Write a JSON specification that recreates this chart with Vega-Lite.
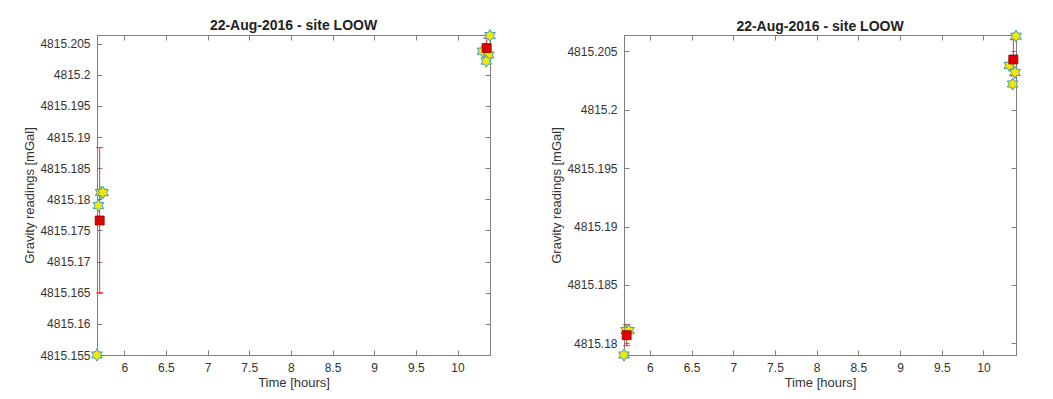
{
  "$schema": "https://vega.github.io/schema/vega-lite/v6.json",
  "padding": {"left": 23, "top": 18, "right": 0, "bottom": 0},
  "background": "white",
  "spacing": 52,
  "data": {
    "values": [
      {"panel": "left", "kind": "reading", "time": 5.673, "g": 4815.155},
      {"panel": "left", "kind": "reading", "time": 5.69, "g": 4815.179},
      {"panel": "left", "kind": "reading", "time": 5.717, "g": 4815.1811},
      {"panel": "left", "kind": "reading", "time": 5.745, "g": 4815.1811},
      {"panel": "left", "kind": "reading", "time": 10.39, "g": 4815.2063},
      {"panel": "left", "kind": "reading", "time": 10.3, "g": 4815.2038},
      {"panel": "left", "kind": "reading", "time": 10.375, "g": 4815.2032},
      {"panel": "left", "kind": "reading", "time": 10.345, "g": 4815.2022},
      {"panel": "left", "kind": "mean", "time": 5.705, "g": 4815.1766, "lo": 4815.165, "hi": 4815.1883},
      {"panel": "left", "kind": "mean", "time": 10.35, "g": 4815.2043, "lo": 4815.2028, "hi": 4815.2059},
      {"panel": "right", "kind": "reading", "time": 5.69, "g": 4815.179},
      {"panel": "right", "kind": "reading", "time": 5.715, "g": 4815.1811},
      {"panel": "right", "kind": "reading", "time": 5.75, "g": 4815.1811},
      {"panel": "right", "kind": "reading", "time": 10.39, "g": 4815.2063},
      {"panel": "right", "kind": "reading", "time": 10.31, "g": 4815.2038},
      {"panel": "right", "kind": "reading", "time": 10.378, "g": 4815.2032},
      {"panel": "right", "kind": "reading", "time": 10.35, "g": 4815.2022},
      {"panel": "right", "kind": "mean", "time": 5.722, "g": 4815.1807, "lo": 4815.1798, "hi": 4815.1816},
      {"panel": "right", "kind": "mean", "time": 10.358, "g": 4815.2043, "lo": 4815.2029, "hi": 4815.206}
    ]
  },
  "hconcat": [
    {
      "width": 393,
      "height": 320,
      "title": "22-Aug-2016 - site LOOW",
      "transform": [{"filter": "datum.panel == 'left'"}],
      "layer": [
        {
          "transform": [{"filter": "datum.kind == 'mean'"}],
          "mark": {"type": "rule", "color": "#e83030", "strokeWidth": 1},
          "encoding": {
            "x": {"field": "time", "type": "quantitative", "scale": {"domain": [5.673, 10.39], "nice": false, "zero": false}, "axis": {"orient": "top", "labels": false, "title": null, "values": [6, 6.5, 7, 7.5, 8, 8.5, 9, 9.5, 10], "domain": false, "labelPadding": 0, "minExtent": 0, "maxExtent": 0}},
            "y": {"field": "lo", "type": "quantitative", "scale": {"domain": [4815.155, 4815.2064], "nice": false, "zero": false}, "axis": {"orient": "right", "labels": false, "title": null, "values": [4815.155, 4815.16, 4815.165, 4815.17, 4815.175, 4815.18, 4815.185, 4815.19, 4815.195, 4815.2, 4815.205], "domain": false, "labelPadding": 0, "minExtent": 0, "maxExtent": 0}},
            "y2": {"field": "hi"}
          }
        },
        {
          "transform": [{"filter": "datum.kind == 'mean'"}],
          "mark": {"type": "point", "shape": "M-1,0L1,0", "size": 49, "filled": false, "stroke": "#e83030", "strokeWidth": 1, "opacity": 1},
          "encoding": {
            "x": {"field": "time", "type": "quantitative", "axis": null},
            "y": {"field": "lo", "type": "quantitative", "axis": null}
          }
        },
        {
          "transform": [{"filter": "datum.kind == 'mean'"}],
          "mark": {"type": "point", "shape": "M-1,0L1,0", "size": 49, "filled": false, "stroke": "#e83030", "strokeWidth": 1, "opacity": 1},
          "encoding": {
            "x": {"field": "time", "type": "quantitative", "axis": null},
            "y": {"field": "hi", "type": "quantitative", "axis": null}
          }
        },
        {
          "transform": [{"filter": "datum.kind == 'reading'"}],
          "mark": {"type": "point", "shape": "M0,-1L-0.289,-0.5L-0.866,-0.5L-0.577,0L-0.866,0.5L-0.289,0.5L0,1L0.289,0.5L0.866,0.5L0.577,0L0.866,-0.5L0.289,-0.5Z", "size": 150, "filled": true, "fill": "#f5e800", "stroke": "#3a9cc0", "strokeWidth": 1, "opacity": 1},
          "encoding": {
            "x": {"field": "time", "type": "quantitative", "axis": {"orient": "bottom", "title": "Time [hours]", "values": [6, 6.5, 7, 7.5, 8, 8.5, 9, 9.5, 10], "format": ".1~f", "titlePadding": 3}},
            "y": {"field": "g", "type": "quantitative", "axis": {"orient": "left", "title": "Gravity readings [mGal]", "values": [4815.155, 4815.16, 4815.165, 4815.17, 4815.175, 4815.18, 4815.185, 4815.19, 4815.195, 4815.2, 4815.205], "format": ".3~f", "titlePadding": 3}}
          }
        },
        {
          "transform": [{"filter": "datum.kind == 'mean'"}],
          "mark": {"type": "square", "size": 81, "filled": true, "fill": "#e00000", "stroke": "#900000", "strokeWidth": 0.8, "opacity": 1},
          "encoding": {
            "x": {"field": "time", "type": "quantitative", "axis": null},
            "y": {"field": "g", "type": "quantitative", "axis": null}
          }
        }
      ],
      "resolve": {"axis": {"x": "independent", "y": "independent"}}
    },
    {
      "width": 392,
      "height": 320,
      "title": "22-Aug-2016 - site LOOW",
      "transform": [{"filter": "datum.panel == 'right'"}],
      "layer": [
        {
          "transform": [{"filter": "datum.kind == 'mean'"}],
          "mark": {"type": "rule", "color": "#e83030", "strokeWidth": 1},
          "encoding": {
            "x": {"field": "time", "type": "quantitative", "scale": {"domain": [5.69, 10.39], "nice": false, "zero": false}, "axis": {"orient": "top", "labels": false, "title": null, "values": [6, 6.5, 7, 7.5, 8, 8.5, 9, 9.5, 10], "domain": false, "labelPadding": 0, "minExtent": 0, "maxExtent": 0}},
            "y": {"field": "lo", "type": "quantitative", "scale": {"domain": [4815.179, 4815.2064], "nice": false, "zero": false}, "axis": {"orient": "right", "labels": false, "title": null, "values": [4815.18, 4815.185, 4815.19, 4815.195, 4815.2, 4815.205], "domain": false, "labelPadding": 0, "minExtent": 0, "maxExtent": 0}},
            "y2": {"field": "hi"}
          }
        },
        {
          "transform": [{"filter": "datum.kind == 'mean'"}],
          "mark": {"type": "point", "shape": "M-1,0L1,0", "size": 49, "filled": false, "stroke": "#e83030", "strokeWidth": 1, "opacity": 1},
          "encoding": {
            "x": {"field": "time", "type": "quantitative", "axis": null},
            "y": {"field": "lo", "type": "quantitative", "axis": null}
          }
        },
        {
          "transform": [{"filter": "datum.kind == 'mean'"}],
          "mark": {"type": "point", "shape": "M-1,0L1,0", "size": 49, "filled": false, "stroke": "#e83030", "strokeWidth": 1, "opacity": 1},
          "encoding": {
            "x": {"field": "time", "type": "quantitative", "axis": null},
            "y": {"field": "hi", "type": "quantitative", "axis": null}
          }
        },
        {
          "transform": [{"filter": "datum.kind == 'reading'"}],
          "mark": {"type": "point", "shape": "M0,-1L-0.289,-0.5L-0.866,-0.5L-0.577,0L-0.866,0.5L-0.289,0.5L0,1L0.289,0.5L0.866,0.5L0.577,0L0.866,-0.5L0.289,-0.5Z", "size": 150, "filled": true, "fill": "#f5e800", "stroke": "#3a9cc0", "strokeWidth": 1, "opacity": 1},
          "encoding": {
            "x": {"field": "time", "type": "quantitative", "axis": {"orient": "bottom", "title": "Time [hours]", "values": [6, 6.5, 7, 7.5, 8, 8.5, 9, 9.5, 10], "format": ".1~f", "titlePadding": 3}},
            "y": {"field": "g", "type": "quantitative", "axis": {"orient": "left", "title": "Gravity readings [mGal]", "values": [4815.18, 4815.185, 4815.19, 4815.195, 4815.2, 4815.205], "format": ".3~f", "titlePadding": 3}}
          }
        },
        {
          "transform": [{"filter": "datum.kind == 'mean'"}],
          "mark": {"type": "square", "size": 81, "filled": true, "fill": "#e00000", "stroke": "#900000", "strokeWidth": 0.8, "opacity": 1},
          "encoding": {
            "x": {"field": "time", "type": "quantitative", "axis": null},
            "y": {"field": "g", "type": "quantitative", "axis": null}
          }
        }
      ],
      "resolve": {"axis": {"x": "independent", "y": "independent"}}
    }
  ],
  "config": {
    "view": {"stroke": "#7f7f7f", "strokeWidth": 1},
    "font": "Liberation Sans",
    "title": {"font": "Liberation Sans", "fontSize": 14, "fontWeight": "bold", "color": "#222222", "offset": -6},
    "axis": {
      "grid": false,
      "domainColor": "#7f7f7f",
      "tickColor": "#7f7f7f",
      "tickSize": -5,
      "labelPadding": 12,
      "labelFont": "Liberation Sans",
      "labelFontSize": 12,
      "labelColor": "#333333",
      "titleFont": "Liberation Sans",
      "titleFontSize": 13,
      "titleFontWeight": "normal",
      "titleColor": "#333333"
    }
  }
}
